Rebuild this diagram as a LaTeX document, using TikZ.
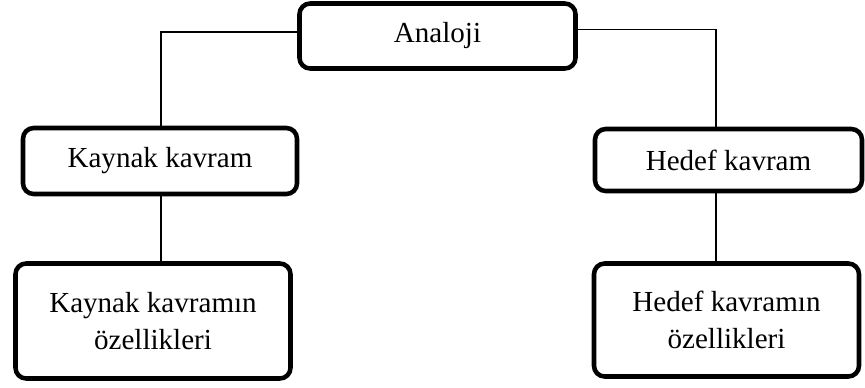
\documentclass[tikz,border=0pt]{standalone}
\usepackage{fontspec}
\setmainfont{Liberation Serif}
\tikzset{
  box/.style={draw=black, line width=3.4pt, rounded corners=8pt, fill=white,
    inner sep=0pt, font=\fontsize{21.8}{27.5}\selectfont, align=center},
  link/.style={draw=black, line width=1.1pt}
}
\begin{document}
\begin{tikzpicture}[x=0.75pt,y=-0.75pt]
\useasboundingbox (0,0) rectangle (865,387);
% boxes (centre, size between line centres)
\node[box, minimum width=276*0.75pt, minimum height=65*0.75pt] (analoji) at (437.5,36) {Analoji};
\node[box, minimum width=274*0.75pt, minimum height=66*0.75pt] (kaynak) at (160,161) {Kaynak kavram};
\node[box, minimum width=267*0.75pt, minimum height=62*0.75pt] (hedef) at (728.5,160) {Hedef kavram};
\node[box, minimum width=275*0.75pt, minimum height=115*0.75pt] (kayoz) at (153,321) {Kaynak kavramın\\özellikleri};
\node[box, minimum width=265*0.75pt, minimum height=113*0.75pt] (hedoz) at (726.5,320) {Hedef kavramın\\özellikleri};
\coordinate (hx) at (716,0);
\coordinate (kx) at (161,0);
% connectors
\draw[link] ([yshift=3pt]analoji.west) -| (kaynak.north -| kx);
\draw[link] ([yshift=5pt]analoji.east) -| (hedef.north -| hx);
\draw[link] (kaynak.south -| kx) -- (kayoz.north -| kx);
\draw[link] (hedef.south -| hx) -- (hedoz.north -| hx);
\end{tikzpicture}
\end{document}
